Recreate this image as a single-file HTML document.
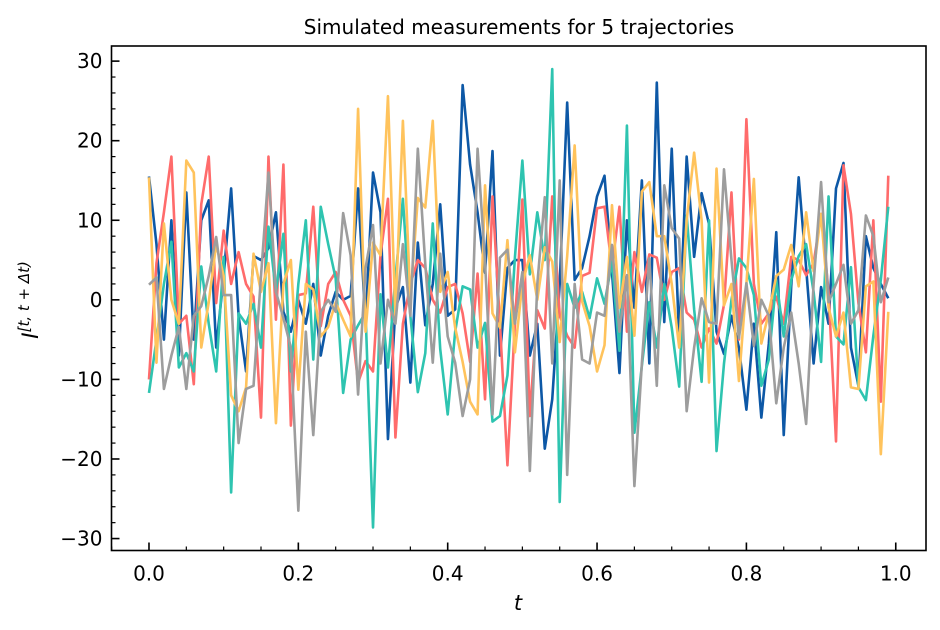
<!DOCTYPE html>
<html>
<head>
<meta charset="utf-8">
<style>
  html, body { margin:0; padding:0; background:#fff; }
  svg { display:block; font-family: "DejaVu Sans", "Liberation Sans", sans-serif; }
</style>
</head>
<body>
<svg id="chart" width="940" height="630" viewBox="0 0 940 630" xmlns="http://www.w3.org/2000/svg">
  <rect x="0" y="0" width="940" height="630" fill="#fff"/>
  <text x="519" y="34" text-anchor="middle" font-size="20" fill="#000">Simulated measurements for 5 trajectories</text>
  <g id="series"></g>
  <g id="axes"></g>
  <text x="518" y="610" text-anchor="middle" font-size="21" font-style="italic" fill="#000">t</text>
  <text transform="translate(38,300) rotate(-90)" text-anchor="middle" font-size="22" font-style="italic" fill="#000">I<tspan font-size="15" dy="-9">[t, t + Δt)</tspan></text>
</svg>
<script>
const seriesNames = ["trajectory-1", "trajectory-2", "trajectory-3", "trajectory-4", "trajectory-5"];
const seriesColors = ["#0d58a6", "#ff6b6b", "#2ec4b0", "#ffc35c", "#9d9d9d"];
const xTicks = [0, 0.2, 0.4, 0.6, 0.8, 1.0];
const xTickLabels = ["0.0", "0.2", "0.4", "0.6", "0.8", "1.0"];
const yTicks = [-30, -20, -10, 0, 10, 20, 30];
const yTickLabels = ["\u221230", "\u221220", "\u221210", "0", "10", "20", "30"];

const blue = [15.5,7,-5,10,-7,13.5,-5,10,12.5,-6,
  3,14,-2,-9,5.5,5,6.5,11,-1.5,-4,
  0,-3,2,-7,-2,1,0,0.5,14,-3,
  16,11,-17.5,-1,1.6,-10.4,7.2,-3.2,2,12,
  -2,-1.2,27,17,11,3.4,18.7,-7,4,5,
  5,-7,-3,-18.7,-12.5,2,24.8,2.5,4,8,
  13,15.6,3.5,-9.2,10,-1,15,-8,27.3,-2.8,
  19,-5,18,5.4,13.4,9.5,-4,-6.8,-2,-6,
  -13.8,-3,-14.8,-5.5,8.5,-17,1.7,15.4,4,-8,
  1.6,-3,14,17.2,-6,-10.8,8,4,2,0.2];
const red = [-10,4.6,11,18,-3,-2,-10.6,12,18,-0.4,
  8.7,2,6,2,0.4,-14.8,18,-2.5,17,-15.8,
  0.6,0.8,11.7,-3.3,2,3.5,0,-2,-10.4,-7.7,
  -9,5.6,12.7,-17.3,-3,2,5,4,0,-1.6,
  1.6,2,-1.7,-7.8,3.3,-12.5,13,-3,-20.8,-3,
  12.6,-14.6,-1.3,-3.6,13,-2,-4.5,-6,3,3.4,
  11.5,11.7,4,11.7,-4,6,1,5.7,5.3,0,
  3.5,4,-1.6,-2.5,-6,-3.6,-5.5,-0.6,13.5,-5,
  22.7,2,-3,-1.7,0.4,-3,5.4,5,3.1,4.6,
  10.8,1,-17.8,16.9,10.8,-0.4,-6.6,10,-12.8,15.6];
const teal = [-11.7,-5,2,7.3,-8.5,-6.7,-9,4.2,-3,-9,
  5.4,-24.2,-1.7,-3,-0.5,-6,9.2,1,8.3,-9,
  2,10,-7.5,11.7,7,2.7,-11.7,-5,-3.2,-1.6,
  -28.6,0.7,-8.5,2.7,12.7,-2,-11.6,-6.7,9.6,-6.2,
  -14.4,-4,1.7,1.3,-6,-2.9,-15.3,-14.6,-9.5,5.3,
  17.5,3.2,11,5,29,-25.4,2,-1,1,-2.3,
  2.7,-0.5,4.8,-6.4,21.9,-16.7,-8.3,-0.3,-6,2,
  -3.5,-10.9,10.6,-1.2,-10.3,10,-19,-8,0,5.2,
  4,0.6,-10.8,-7.5,2.5,-4.6,2.5,5.5,7,1,
  -7.8,13,-4.6,-5.6,4.1,-11,-12.6,-4.5,2.5,11.7];
const yellow = [15.4,-7.9,9.6,0,-3,17.5,16,-6,-0.3,7,
  3,-12,-14,-11,5.8,1,4.6,-15.5,2,5,
  -11.3,2,1.3,-4.6,-3.4,-0.3,-2.5,-4.6,24,-4,
  7.2,5.6,25.6,-2,22.5,0,12.8,11.6,22.5,1,
  3.5,-3.5,-7.8,-12.8,-14.4,14.4,-1.7,-3.5,7.5,-6.6,
  2,5.6,0,6.6,4.8,-5.3,5.5,19.4,-0.2,-3.3,
  -9,-5.7,11.9,-1,5.4,-4.5,13.6,14.8,8,8,
  2,-6,10,18.5,10,-10.4,16.5,-0.7,2,-10.2,
  2,15.2,-5.5,-1.6,3,3.8,6.9,1.7,11,3.6,
  10.8,-1,-4.6,-1.6,-11,-11.2,1.7,2.3,-19.4,-1.5];
const gray = [1.9,2.8,-11.2,-7,-3.4,-11.2,-2,-0.8,3,7.9,
  0.6,0.6,-18,-11.2,-10.8,3,16,1,-2.3,-6,
  -26.5,-4,-17,-1.5,0,-1.5,10.9,5.6,-11.9,4,
  9.4,-8,0,-3,7,-2,19,4.5,-7.9,5.8,
  -4.6,-7.9,-14.6,-10,19,4.8,-14.4,5.3,6.3,-3,
  3.5,-21.5,2,12.9,-8,15,-22,2,-7.5,-8,
  -1.6,-2,6.9,-4,3.1,-23.4,-8,5.2,-10.8,14.4,
  9,7.7,-14,-6,0.2,-2.8,-3,16.4,5,-4.8,
  2.1,-5.8,0,-2,-13,-6,-1.6,-8,-15.6,2,
  14.8,-0.3,2,4.4,-3,-1.3,10.6,8,-0.3,2.8];
const allSeries = [blue, red, teal, yellow, gray];

const plotLeft = 111.5, plotRight = 926, plotTop = 46, plotBottom = 550.5;
const xMin = -0.0502, xMax = 1.0405, yMin = -31.5, yMax = 31.9;
function xScale(v){ return plotLeft + (v - xMin) / (xMax - xMin) * (plotRight - plotLeft); }
function yScale(v){ return plotBottom - (v - yMin) / (yMax - yMin) * (plotBottom - plotTop); }

const NS = "http://www.w3.org/2000/svg";
const sg = document.getElementById("series");
allSeries.forEach(function(vals, s){
  const pts = vals.map(function(v, i){ return xScale(i / vals.length).toFixed(2) + "," + yScale(v).toFixed(2); }).join(" ");
  const pl = document.createElementNS(NS, "polyline");
  pl.setAttribute("points", pts);
  pl.setAttribute("fill", "none");
  pl.setAttribute("stroke", seriesColors[s]);
  pl.setAttribute("stroke-width", "2.6");
  pl.setAttribute("stroke-linejoin", "round");
  
  
  sg.appendChild(pl);
});

const ag = document.getElementById("axes");
const frame = document.createElementNS(NS, "rect");
frame.setAttribute("x", plotLeft); frame.setAttribute("y", plotTop);
frame.setAttribute("width", plotRight - plotLeft); frame.setAttribute("height", plotBottom - plotTop);
frame.setAttribute("fill", "none"); frame.setAttribute("stroke", "#000"); frame.setAttribute("stroke-width", "1.6");


ag.appendChild(frame);

function tick(x1, y1, x2, y2, w, name){
  const l = document.createElementNS(NS, "line");
  l.setAttribute("x1", x1); l.setAttribute("y1", y1); l.setAttribute("x2", x2); l.setAttribute("y2", y2);
  l.setAttribute("stroke", "#000"); l.setAttribute("stroke-width", w);
  
  
  ag.appendChild(l);
}
function label(x, y, txt, anchor, name){
  const t = document.createElementNS(NS, "text");
  t.setAttribute("x", x); t.setAttribute("y", y); t.setAttribute("text-anchor", anchor);
  t.setAttribute("font-size", "20"); t.setAttribute("fill", "#000");
  t.textContent = txt;
  
  
  ag.appendChild(t);
}
xTicks.forEach(function(v, i){
  const x = xScale(v);
  tick(x, plotBottom, x, plotBottom - 8, 1.6, "x-major-tick");
  label(x, plotBottom + 30, xTickLabels[i], "middle", "x-tick-label");
});
for (let k = -1; k <= 21; k++){
  const v = k * 0.05;
  if (k % 4 === 0) continue;
  if (v < xMin || v > xMax) continue;
  tick(xScale(v), plotBottom, xScale(v), plotBottom - 4, 1.2, "x-minor-tick");
}
yTicks.forEach(function(v, i){
  const y = yScale(v);
  tick(plotLeft, y, plotLeft + 8, y, 1.6, "y-major-tick");
  label(plotLeft - 9, y + 7, yTickLabels[i], "end", "y-tick-label");
});
for (let v = -30; v <= 30; v += 2){
  if (v % 10 === 0) continue;
  tick(plotLeft, yScale(v), plotLeft + 4, yScale(v), 1.2, "y-minor-tick");
}
</script>
</body>
</html>
